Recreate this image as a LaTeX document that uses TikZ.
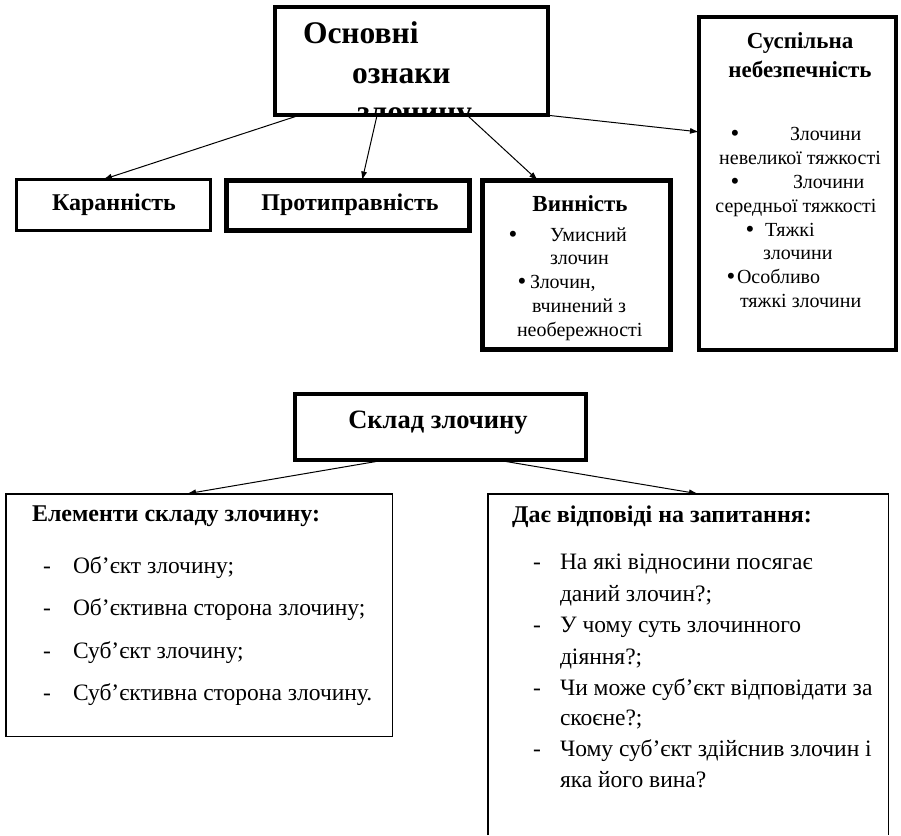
\documentclass[tikz,border=0pt]{standalone}
\usepackage{fontspec}
\setmainfont{Liberation Serif}
\usetikzlibrary{arrows.meta,calc}
\newcommand\fbig{\fontsize{31.5}{31.5}\selectfont\bfseries}
\newcommand\fhead{\fontsize{24}{24}\selectfont\bfseries}
\newcommand\fsklad{\fontsize{26.5}{26.5}\selectfont\bfseries}
\newcommand\fsub{\fontsize{23}{23}\selectfont\bfseries}
\newcommand\fsmall{\fontsize{20}{20}\selectfont}
\newcommand\fbul{\fontsize{25}{25}\selectfont}
\newcommand\fmid{\fontsize{23.5}{23.5}\selectfont}
\begin{document}
\begin{tikzpicture}[x=1pt,y=-1pt,
  boxframe/.style={draw, inner sep=0pt, outer sep=0pt, anchor=north west, line width=#1},
  boxblank/.style={inner sep=0pt, outer sep=0pt, anchor=north west},
  lbl/.style={inner sep=0pt, outer sep=0pt},
  arr/.style={line width=1pt, -{Latex[length=9pt,width=6pt]}}]
\useasboundingbox (0,0) rectangle (901,835);

% ---- top box: main features, text clipped by its frame
\begin{scope}
  \clip (275,7) rectangle (548,115);
  \node[lbl, anchor=base west, font=\fbig] (o1) at (303,43) {Основні};
  \node[lbl, anchor=base west, font=\fbig] (o2) at (352,83) {ознаки};
  \node[lbl, anchor=base west, font=\fbig] (o3) at (357,122) {злочину};
\end{scope}
\node[boxframe=4pt, minimum width=273pt, minimum height=108pt] (top) at (275,7) {};

% ---- Каранність
\node[boxframe=3pt, minimum width=194pt, minimum height=51pt] (kar) at (16.5,179.5) {};
\node[lbl, anchor=base, font=\fhead] (kart) at (114,210) {Каранність};

% ---- Протиправність
\node[boxframe=5pt, minimum width=243pt, minimum height=50pt] (prot) at (226.5,180.5) {};
\node[lbl, anchor=base, font=\fhead] (prott) at (350,210) {Протиправність};

% ---- Винність
\node[boxframe=5pt, minimum width=188pt, minimum height=169pt] (vin) at (482.5,180.5) {};
\node[lbl, anchor=base, font=\fsub] (vint) at (580,211) {Винність};
\node[lbl, anchor=base, font=\fbul] (vb1) at (513,242) {•};
\node[lbl, anchor=base west, font=\fsmall] (v1) at (550,241) {Умисний};
\node[lbl, anchor=base west, font=\fsmall] (v2) at (550,264) {злочин};
\node[lbl, anchor=base, font=\fbul] (vb2) at (522,289) {•};
\node[lbl, anchor=base west, font=\fsmall] (v3) at (530,288) {Злочин,};
\node[lbl, anchor=base west, font=\fsmall] (v4) at (532,312) {вчинений з};
\node[lbl, anchor=base west, font=\fsmall] (v5) at (517,336) {необережності};

% ---- Суспільна небезпечність
\node[boxframe=4pt, minimum width=197pt, minimum height=333pt] (sus) at (699,17) {};
\node[lbl, anchor=base, font=\fsub] (sust1) at (800,48) {Суспільна};
\node[lbl, anchor=base, font=\fsub] (sust2) at (800,77) {небезпечність};
\node[lbl, anchor=base, font=\fbul] (sb1) at (735,141) {•};
\node[lbl, anchor=base west, font=\fsmall] (s1) at (790,140) {Злочини};
\node[lbl, anchor=base, font=\fsmall] (s2) at (800,164) {невеликої тяжкості};
\node[lbl, anchor=base, font=\fbul] (sb2) at (735,189) {•};
\node[lbl, anchor=base west, font=\fsmall] (s3) at (793,188) {Злочини};
\node[lbl, anchor=base, font=\fsmall] (s4) at (796,212) {середньої тяжкості};
\node[lbl, anchor=base, font=\fbul] (sb3) at (750,237) {•};
\node[lbl, anchor=base west, font=\fsmall] (s5) at (765,236) {Тяжкі};
\node[lbl, anchor=base west, font=\fsmall] (s6) at (763,259) {злочини};
\node[lbl, anchor=base, font=\fbul] (sb4) at (731,284) {•};
\node[lbl, anchor=base west, font=\fsmall] (s7) at (737,283) {Особливо};
\node[lbl, anchor=base west, font=\fsmall] (s8) at (740,307) {тяжкі злочини};

% ---- Склад злочину
\node[boxframe=4pt, minimum width=291pt, minimum height=66pt] (sklad) at (295,394) {};
\node[lbl, anchor=base, font=\fsklad] (skladt) at (438,428) {Склад злочину};

% ---- Елементи складу злочину
\node[boxframe=1.5pt, minimum width=386.5pt, minimum height=242.5pt] (elem) at (5.75,493.75) {};
\node[lbl, anchor=base west, font=\fhead] (elemt) at (32,521) {Елементи складу злочину:};
\node[lbl, anchor=base west, font=\fmid] (ed1) at (43,573) {-};
\node[lbl, anchor=base west, font=\fmid] (e1) at (73,573) {Об’єкт злочину;};
\node[lbl, anchor=base west, font=\fmid] (ed2) at (43,615) {-};
\node[lbl, anchor=base west, font=\fmid] (e2) at (73,615) {Об’єктивна сторона злочину;};
\node[lbl, anchor=base west, font=\fmid] (ed3) at (43,658) {-};
\node[lbl, anchor=base west, font=\fmid] (e3) at (73,658) {Суб’єкт злочину;};
\node[lbl, anchor=base west, font=\fmid] (ed4) at (43,700) {-};
\node[lbl, anchor=base west, font=\fmid] (e4) at (73,700) {Суб’єктивна сторона злочину.};

% ---- Дає відповіді на запитання (box runs past the bottom edge)
\node[boxblank, minimum width=400.5pt, minimum height=341.25pt] (ans) at (487.75,493.75) {};
\draw[line width=1.5pt] (ans.south west) -- (ans.north west) -- (ans.north east) -- (ans.south east);
\node[lbl, anchor=base west, font=\fhead] (anst) at (512,522) {Дає відповіді на запитання:};
\node[lbl, anchor=base west, font=\fmid] (ad1) at (533,569) {-};
\node[lbl, anchor=base west, font=\fmid] (a1) at (560,569) {На які відносини посягає};
\node[lbl, anchor=base west, font=\fmid] (a2) at (560,601) {даний злочин?;};
\node[lbl, anchor=base west, font=\fmid] (ad2) at (533,632) {-};
\node[lbl, anchor=base west, font=\fmid] (a3) at (560,632) {У чому суть злочинного};
\node[lbl, anchor=base west, font=\fmid] (a4) at (560,664) {діяння?;};
\node[lbl, anchor=base west, font=\fmid] (ad3) at (533,695) {-};
\node[lbl, anchor=base west, font=\fmid] (a5) at (560,695) {Чи може суб’єкт відповідати за};
\node[lbl, anchor=base west, font=\fmid] (a6) at (560,725) {скоєне?;};
\node[lbl, anchor=base west, font=\fmid] (ad4) at (533,756) {-};
\node[lbl, anchor=base west, font=\fmid] (a7) at (560,756) {Чому суб’єкт здійснив злочин і};
\node[lbl, anchor=base west, font=\fmid] (a8) at (560,787) {яка його вина?};

% ---- connectors
\draw[arr] ($(top.south west)!0.092!(top.south east)$) -- ($(kar.north west)!0.446!(kar.north east)$);
\draw[arr] ($(top.south west)!0.374!(top.south east)$) -- ($(prot.north west)!0.558!(prot.north east)$);
\draw[arr] ($(top.south west)!0.703!(top.south east)$) -- ($(vin.north west)!0.295!(vin.north east)$);
\draw[arr] ($(top.south west)!0.99!(top.south east)$) -- ($(sus.north west)!0.345!(sus.south west)$);
\draw[arr] ($(sklad.south west)!0.309!(sklad.south east)$) -- ($(elem.north west)!0.469!(elem.north east)$);
\draw[arr] ($(sklad.south west)!0.694!(sklad.south east)$) -- ($(ans.north west)!0.525!(ans.north east)$);
\end{tikzpicture}
\end{document}
